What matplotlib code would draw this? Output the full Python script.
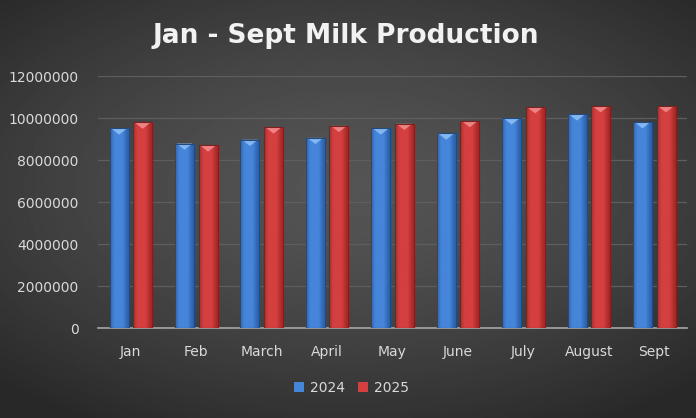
import numpy as np
import matplotlib
matplotlib.use("Agg")
import matplotlib.pyplot as plt
from matplotlib.patches import Polygon, Rectangle

# data
months = ["Jan", "Feb", "March", "April", "May", "June", "July", "August", "Sept"]
prod_2024 = [9510000, 8790000, 8970000, 9060000, 9510000, 9270000, 9990000, 10180000, 9810000]
prod_2025 = [9790000, 8700000, 9560000, 9630000, 9730000, 9860000, 10520000, 10570000, 10570000]
series_labels = ["2024", "2025"]

BLUE = ("#2f62a8", "#4585da", "#8cbcf5")   # edge, face, bevel highlight
RED = ("#a52a2a", "#d43f3f", "#f28a8a")


def draw_background(fig):
    bg = fig.add_axes([0, 0, 1, 1], zorder=-10)
    yy, xx = np.mgrid[-1:1:300j, -1:1:500j]
    r = np.sqrt((xx * 0.9) ** 2 + ((yy + 0.1) * 1.0) ** 2)
    img = 0.33 - 0.17 * np.clip(r / 1.3, 0, 1) ** 1.5
    bg.imshow(img, cmap="gray", vmin=0, vmax=1, extent=[0, 1, 0, 1],
              aspect="auto", interpolation="bilinear")
    bg.axis("off")


def shade_bar(ax, bar, cols):
    # horizontal gradient over the bar plus a bevelled cap
    x, y = bar.get_x(), bar.get_y()
    w, h = bar.get_width(), bar.get_height()
    edge, face, hi = [np.array(matplotlib.colors.to_rgb(c)) for c in cols]
    t = np.linspace(0, 1, 40)
    prof = 1 - np.abs(t - 0.45) * 2
    grad = edge[None, :] + (face - edge)[None, :] * np.clip(prof * 1.8, 0, 1)[:, None]
    im = ax.imshow(grad[None, :, :], extent=[x, x + w, y, y + h], aspect="auto",
                   interpolation="bilinear", zorder=3)
    im.set_clip_path(bar)
    cap = 300000
    tri = Polygon([[x + w * 0.08, y + h], [x + w * 0.92, y + h], [x + w / 2, y + h - cap]],
                  closed=True, facecolor=hi, edgecolor="none", alpha=0.9, zorder=4)
    ax.add_patch(tri)
    ax.add_patch(Rectangle((x, y), w, h, fill=False, edgecolor=edge * 0.75,
                           linewidth=0.8, zorder=5))


def main():
    fig = plt.figure(figsize=(6.96, 4.18), dpi=100)
    draw_background(fig)

    ax = fig.add_axes([0.141, 0.215, 0.846, 0.603])
    ax.set_facecolor("none")

    x = np.arange(len(months))
    width = 0.29
    gap = 0.035
    b1 = ax.bar(x - width / 2 - gap, prod_2024, width, color=BLUE[1], zorder=2,
                label=series_labels[0])
    b2 = ax.bar(x + width / 2 + gap, prod_2025, width, color=RED[1], zorder=2,
                label=series_labels[1])
    for bar in b1:
        shade_bar(ax, bar, BLUE)
    for bar in b2:
        shade_bar(ax, bar, RED)

    ax.set_xlim(-0.5, len(months) - 0.5)
    ax.set_ylim(0, 12000000)
    ax.set_yticks(np.arange(0, 12000001, 2000000))
    ax.yaxis.set_major_formatter(matplotlib.ticker.FuncFormatter(lambda v, p: f"{int(v)}"))
    ax.set_xticks(x)
    ax.set_xticklabels(months)
    ax.grid(axis="y", color="#5e5e5e", linewidth=0.9, zorder=0)
    ax.set_axisbelow(True)
    for s in ["top", "right", "left"]:
        ax.spines[s].set_visible(False)
    ax.spines["bottom"].set_color("#a6a6a6")
    ax.spines["bottom"].set_linewidth(1.2)
    ax.tick_params(axis="both", length=0, colors="#d9d9d9", labelsize=10, pad=12)
    ax.tick_params(axis="y", pad=14)

    fig.text(0.497, 0.913, "Jan - Sept Milk Production", ha="center", va="center",
             fontsize=19, fontweight="bold", color="#f2f2f2", family="DejaVu Sans")

    handles, labels = ax.get_legend_handles_labels()
    leg = fig.legend(handles, labels, loc="center", bbox_to_anchor=(0.505, 0.072), ncol=2,
                     frameon=False, fontsize=10, handlelength=0.7, handleheight=0.7,
                     columnspacing=1.0, handletextpad=0.4)
    for t in leg.get_texts():
        t.set_color("#d9d9d9")

    fig.savefig("out.png", dpi=100)


if __name__ == "__main__":
    main()
